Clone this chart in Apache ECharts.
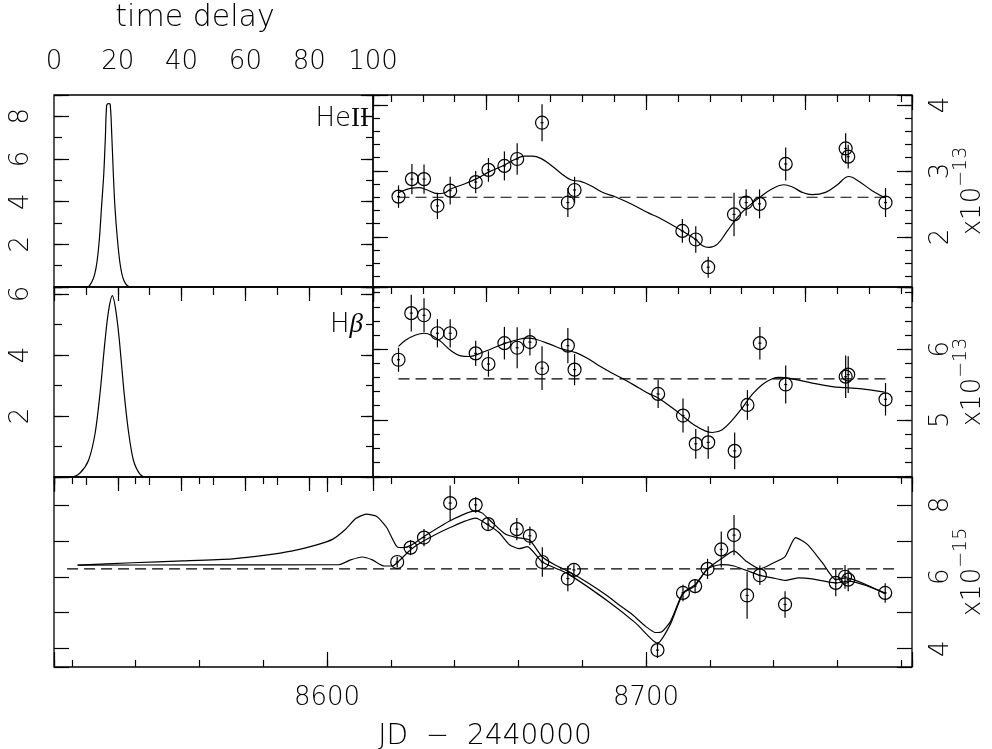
<!DOCTYPE html>
<html>
<head>
<meta charset="utf-8">
<script src="https://cdn.jsdelivr.net/npm/echarts@6/dist/echarts.min.js"></script>
<style>
  html, body { margin: 0; padding: 0; background: #fff; }
  #chart { width: 992px; height: 749px; }
</style>
</head>
<body>
<div id="chart"></div>
<script>
// --- data ---
// transfer functions (time delay in days, arbitrary units)
const heLag = [0, 10.4, 12.3, 13.4, 14.2, 14.9, 15.6, 16.1, 16.5, 17.0, 17.6, 18.1, 18.6, 19.1, 19.9, 20.7, 21.7, 23.3, 24.9, 100];
const heVal = [0, 0, 0.39, 1.1, 2.2, 3.75, 5.3, 7.0, 8.5, 8.6, 8.57, 7.16, 5.3, 3.75, 2.2, 1.1, 0.39, 0.03, 0, 0];
const hbLag = [0, 5.5, 8.15, 10.8, 12.85, 14.4, 16.0, 17.1, 18.3, 19.4, 20.5, 21.9, 23.3, 24.9, 27.0, 29.1, 100];
const hbVal = [0, 0, 0.13, 0.54, 1.41, 2.72, 4.47, 5.45, 5.95, 5.45, 4.47, 2.84, 1.53, 0.55, 0.09, 0, 0];

// HeII light curve (x1e-13)
const heDate = [8622.4, 8626.6, 8630.4, 8634.6, 8638.6, 8646.6, 8650.6, 8655.6, 8659.6, 8667.4, 8675.5, 8677.6, 8711.4, 8715.6, 8719.5, 8727.6, 8731.4, 8735.6, 8743.8, 8762.6, 8763.4, 8775.1];
const heFlux = [2.61, 2.875, 2.875, 2.47, 2.70, 2.83, 3.015, 3.075, 3.18, 3.73, 2.52, 2.71, 2.09, 1.96, 1.54, 2.34, 2.52, 2.50, 3.105, 3.34, 3.215, 2.52];
const heErr = [0.17, 0.23, 0.22, 0.20, 0.21, 0.17, 0.18, 0.22, 0.24, 0.28, 0.22, 0.20, 0.18, 0.20, 0.16, 0.33, 0.20, 0.22, 0.25, 0.23, 0.18, 0.22];
const heModelDate = [8622.4, 8626.7, 8628.8, 8631.4, 8634.6, 8636.7, 8638.8, 8642.4, 8646.6, 8650.8, 8655.0, 8659.2, 8661.8, 8664.4, 8667.0, 8670.1, 8673.3, 8676.4, 8679.5, 8682.7, 8686.3, 8690.5, 8695.7, 8700.9, 8704.1, 8711.4, 8715.6, 8717.6, 8719.7, 8722.4, 8725.5, 8728.6, 8731.8, 8736.0, 8739.6, 8743.3, 8745.9, 8749.0, 8752.1, 8756.3, 8760.0, 8763.6, 8766.8, 8770.9, 8775.1];
const heModel = [2.67, 2.74, 2.745, 2.71, 2.655, 2.665, 2.725, 2.79, 2.875, 2.985, 3.075, 3.18, 3.225, 3.225, 3.19, 3.09, 2.965, 2.865, 2.84, 2.775, 2.675, 2.605, 2.49, 2.36, 2.29, 2.09, 1.96, 1.87, 1.84, 1.89, 2.09, 2.29, 2.45, 2.61, 2.73, 2.79, 2.755, 2.675, 2.64, 2.675, 2.79, 2.915, 2.84, 2.70, 2.59];
const heMean = 2.60;

// H-beta light curve (x1e-13)
const hbDate = [8622.4, 8626.4, 8630.4, 8634.6, 8638.6, 8646.6, 8650.6, 8655.6, 8659.6, 8663.6, 8667.4, 8675.5, 8677.6, 8703.8, 8711.6, 8715.6, 8719.5, 8727.8, 8731.8, 8735.7, 8743.8, 8762.6, 8763.4, 8775.1];
const hbFlux = [5.85, 6.51, 6.48, 6.225, 6.225, 5.94, 5.79, 6.085, 6.02, 6.10, 5.73, 6.05, 5.71, 5.366, 5.06, 4.66, 4.68, 4.56, 5.21, 6.085, 5.50, 5.61, 5.64, 5.29];
const hbErr = [0.17, 0.26, 0.24, 0.20, 0.20, 0.18, 0.18, 0.23, 0.29, 0.19, 0.31, 0.25, 0.22, 0.20, 0.24, 0.21, 0.23, 0.26, 0.21, 0.23, 0.27, 0.30, 0.26, 0.23];
const hbModelDate = [8622.4, 8624.7, 8627.8, 8630.4, 8633.0, 8635.6, 8638.8, 8641.9, 8644.5, 8647.6, 8651.8, 8656.0, 8660.2, 8662.8, 8665.4, 8669.6, 8673.8, 8678.0, 8681.6, 8685.3, 8689.4, 8693.6, 8697.8, 8700.9, 8703.8, 8708.2, 8711.6, 8715.0, 8718.7, 8720.8, 8723.9, 8727.1, 8730.2, 8733.3, 8736.5, 8739.6, 8741.7, 8745.9, 8752.1, 8758.4, 8762.6, 8768.9, 8775.1];
const hbModel = [6.04, 6.13, 6.20, 6.225, 6.19, 6.11, 5.98, 5.905, 5.896, 5.934, 6.01, 6.085, 6.14, 6.155, 6.14, 6.075, 6.0, 5.95, 5.87, 5.765, 5.66, 5.56, 5.45, 5.37, 5.31, 5.17, 5.05, 4.93, 4.84, 4.82, 4.86, 5.0, 5.17, 5.36, 5.50, 5.58, 5.60, 5.58, 5.52, 5.47, 5.455, 5.43, 5.39];
const hbMean = 5.58;

// continuum light curve (x1e-15)
const coDate = [8622.0, 8626.2, 8630.4, 8638.6, 8646.6, 8650.5, 8659.5, 8663.6, 8667.5, 8675.5, 8677.4, 8703.6, 8711.6, 8715.4, 8719.3, 8723.6, 8727.6, 8731.7, 8735.7, 8743.6, 8759.5, 8762.4, 8763.4, 8775.0];
const coFlux = [6.41, 6.81, 7.09, 8.05, 8.0, 7.465, 7.325, 7.14, 6.41, 5.95, 6.19, 3.96, 5.55, 5.74, 6.22, 6.76, 7.16, 5.48, 6.04, 5.23, 5.83, 6.0, 5.92, 5.55];
const coErr = [0.15, 0.21, 0.24, 0.49, 0.22, 0.19, 0.31, 0.26, 0.41, 0.35, 0.16, 0.22, 0.23, 0.2, 0.28, 0.5, 0.56, 0.65, 0.27, 0.37, 0.37, 0.33, 0.32, 0.27];
const coADate = [8521.8, 8539.0, 8554.7, 8570.4, 8580.8, 8589.2, 8596.5, 8601.7, 8605.9, 8609.0, 8612.3, 8615.5, 8618.7, 8622.0, 8624.1, 8626.4, 8630.4, 8638.6, 8646.6, 8648.7, 8651.8, 8656.0, 8659.5, 8663.5, 8667.5, 8671.7, 8675.9, 8682.0, 8687.4, 8691.5, 8695.7, 8699.9, 8703.0, 8705.1, 8707.7, 8711.6, 8715.4, 8719.3, 8723.6, 8727.6, 8731.3, 8735.7, 8739.6, 8743.6, 8746.9, 8750.6, 8755.3, 8759.5, 8762.6, 8774.9];
const coAFlux = [6.325, 6.39, 6.44, 6.50, 6.60, 6.72, 6.88, 7.04, 7.33, 7.62, 7.74, 7.68, 7.37, 6.83, 6.81, 6.88, 7.12, 7.56, 7.84, 7.77, 7.51, 7.18, 7.09, 7.02, 6.55, 6.32, 6.14, 5.82, 5.50, 5.22, 4.95, 4.62, 4.45, 4.48, 4.76, 5.55, 5.78, 6.22, 6.50, 6.72, 6.44, 6.22, 6.37, 6.56, 7.09, 6.90, 6.39, 5.92, 5.97, 5.53];
const coBDate = [8521.8, 8560.0, 8603.8, 8607.4, 8611.1, 8614.2, 8617.9, 8620.5, 8622.0, 8626.2, 8630.4, 8638.6, 8646.6, 8650.5, 8653.9, 8657.1, 8660.2, 8662.8, 8667.5, 8675.5, 8688.4, 8696.8, 8703.6, 8707.7, 8711.6, 8715.4, 8719.3, 8723.6, 8727.6, 8735.7, 8739.6, 8743.6, 8747.9, 8752.1, 8759.5, 8763.6, 8775.0];
const coBFlux = [6.325, 6.33, 6.34, 6.47, 6.55, 6.47, 6.30, 6.30, 6.39, 6.75, 7.0, 7.37, 7.63, 7.44, 7.23, 6.90, 6.78, 6.84, 6.41, 6.08, 5.30, 4.71, 4.15, 4.69, 5.53, 5.75, 6.22, 6.34, 6.30, 6.04, 5.97, 5.90, 5.97, 5.94, 5.83, 5.88, 5.55];
const coMean = 6.22;
const coMeanFrom = 8518.5, coMeanTo = 8779.5;

// axis extents
const JD0 = 8514.4, JD1 = 8783.4, JDR = JD0 + 100;
const heRange = [1.24, 4.15], hbRange = [4.19, 6.88], coRange = [3.49, 8.775];

// --- chart ---
const FONT = "'DejaVu Sans', sans-serif";
const chart = echarts.init(document.getElementById('chart'));

const xAxes = [], yAxes = [];
function push(list, axis) { list.push(axis); return list.length - 1; }
function tickAxis(grid, pos, min, max, step, len, label) {
  const a = {
    type: 'value', gridIndex: grid, position: pos, min: min, max: max,
    splitNumber: 1, minInterval: step, maxInterval: step,
    axisLine: { show: false }, splitLine: { show: false },
    axisTick: { show: true, inside: true, length: len, lineStyle: { color: '#000', width: 1.2 } },
    axisLabel: { show: false }
  };
  if (label) {
    a.axisLabel = Object.assign({ show: true, color: '#000', fontFamily: FONT, fontSize: 26, fontWeight: 200 }, label);
  }
  return a;
}
const isMult = (v, s) => Math.abs(v / s - Math.round(v / s)) < 1e-6;

// grid 0: HeII transfer function
const x0 = push(xAxes, tickAxis(0, 'top', 0, 100, 20, 14, { margin: 20, formatter: v => String(v) }));
push(xAxes, tickAxis(0, 'top', 0, 100, 10, 8));
const y0 = push(yAxes, tickAxis(0, 'left', 0, 9, 2, 15, { rotate: 90, margin: 20, formatter: v => (v > 0 && isMult(v, 2)) ? String(v) : '' }));
push(yAxes, tickAxis(0, 'left', 0, 9, 1, 8));
push(yAxes, tickAxis(0, 'right', 0, 9, 2, 12));
push(yAxes, tickAxis(0, 'right', 0, 9, 1, 7));

// grid 1: HeII light curve
const x1 = push(xAxes, tickAxis(1, 'top', JDR, JD1, 50, 15));
push(xAxes, tickAxis(1, 'top', JDR, JD1, 10, 7));
const y1 = push(yAxes, tickAxis(1, 'right', heRange[0], heRange[1], 1, 15, { rotate: 90, margin: 16, formatter: v => isMult(v, 1) ? String(v) : '' }));
yAxes[y1].name = '{a|x10}{b|\u221213}';
push(yAxes, tickAxis(1, 'right', heRange[0], heRange[1], 0.2, 7));
push(yAxes, tickAxis(1, 'left', heRange[0], heRange[1], 1, 15));
push(yAxes, tickAxis(1, 'left', heRange[0], heRange[1], 0.2, 7));

// grid 2: H-beta transfer function
const x2 = push(xAxes, tickAxis(2, 'top', 0, 100, 20, 14));
push(xAxes, tickAxis(2, 'top', 0, 100, 10, 8));
const y2 = push(yAxes, tickAxis(2, 'left', 0, 6.23, 2, 15, { rotate: 90, margin: 20, formatter: v => (v > 0 && isMult(v, 2)) ? String(v) : '' }));
push(yAxes, tickAxis(2, 'left', 0, 6.23, 1, 8));
push(yAxes, tickAxis(2, 'right', 0, 6.23, 2, 12));
push(yAxes, tickAxis(2, 'right', 0, 6.23, 1, 7));

// grid 3: H-beta light curve
const x3 = push(xAxes, tickAxis(3, 'top', JDR, JD1, 50, 15));
push(xAxes, tickAxis(3, 'top', JDR, JD1, 10, 7));
const y3 = push(yAxes, tickAxis(3, 'right', hbRange[0], hbRange[1], 1, 15, { rotate: 90, margin: 16, formatter: v => isMult(v, 1) ? String(v) : '' }));
yAxes[y3].name = '{a|x10}{b|\u221213}';
push(yAxes, tickAxis(3, 'right', hbRange[0], hbRange[1], 0.2, 7));
push(yAxes, tickAxis(3, 'left', hbRange[0], hbRange[1], 1, 15));
push(yAxes, tickAxis(3, 'left', hbRange[0], hbRange[1], 0.2, 7));

// grid 4: continuum
const x4 = push(xAxes, tickAxis(4, 'bottom', JD0, JD1, 100, 15, { margin: 18, formatter: v => isMult(v, 100) ? String(Math.round(v)) : '' }));
push(xAxes, tickAxis(4, 'bottom', JD0, JD1, 20, 7));
push(xAxes, tickAxis(4, 'top', JD0, JD1, 100, 15));
push(xAxes, tickAxis(4, 'top', JD0, JD1, 20, 7));
const y4 = push(yAxes, tickAxis(4, 'right', coRange[0], coRange[1], 1, 15, { rotate: 90, margin: 16, formatter: v => isMult(v, 2) ? String(v) : '' }));
yAxes[y4].name = '{a|x10}{b|\u221215}';
push(yAxes, tickAxis(4, 'left', coRange[0], coRange[1], 1, 15));

[y1, y3, y4].forEach(i => {
  Object.assign(yAxes[i], {
    nameLocation: 'middle', nameRotate: 90, nameGap: 40, nameMoveOverlap: false,
    nameTextStyle: {
      color: '#000', fontFamily: FONT, fontWeight: 200,
      rich: {
        a: { color: '#000', fontFamily: FONT, fontSize: 26, fontWeight: 200, lineHeight: 34, verticalAlign: 'bottom' },
        b: { color: '#000', fontFamily: FONT, fontSize: 19, fontWeight: 200, lineHeight: 34, verticalAlign: 'top' }
      }
    }
  });
});

const grids = [
  { left: 54, top: 95, width: 319, height: 192 },
  { left: 373, top: 95, width: 539, height: 192 },
  { left: 54, top: 287, width: 319, height: 190 },
  { left: 373, top: 287, width: 539, height: 190 },
  { left: 54, top: 477, width: 858, height: 190 }
].map(g => Object.assign({ show: true, borderColor: '#000', borderWidth: 1.3, backgroundColor: 'transparent',
  containLabel: false, outerBoundsMode: 'none' }, g));

const pair = (xs, ys) => xs.map((x, i) => [x, ys[i]]);
const lineStyle = { color: '#000', width: 1.2 };

function curve(xi, yi, xs, ys, smooth) {
  return { type: 'line', xAxisIndex: xi, yAxisIndex: yi, data: pair(xs, ys), showSymbol: false, smooth: smooth,
    lineStyle: lineStyle, silent: true, animation: false, z: 3 };
}
function dashed(xi, yi, from, to, y) {
  return { type: 'line', xAxisIndex: xi, yAxisIndex: yi, data: [[from, y], [to, y]], showSymbol: false,
    lineStyle: { color: '#000', width: 1.2, type: [11, 6] }, silent: true, animation: false, z: 2 };
}
function points(xi, yi, xs, ys, es) {
  return {
    type: 'custom', xAxisIndex: xi, yAxisIndex: yi, animation: false, silent: true, z: 4,
    data: xs.map((x, i) => [x, ys[i], es[i]]),
    encode: { x: 0, y: 1 },
    renderItem: function (params, api) {
      const x = api.value(0), y = api.value(1), e = api.value(2);
      const c = api.coord([x, y]);
      const lo = api.coord([x, y - e]);
      const hi = api.coord([x, y + e]);
      const s = { stroke: '#000', lineWidth: 1.2, fill: null };
      return { type: 'group', children: [
        { type: 'line', shape: { x1: c[0], y1: lo[1], x2: c[0], y2: hi[1] }, style: s },
        { type: 'circle', shape: { cx: c[0], cy: c[1], r: 6.5 }, style: s },
        { type: 'line', shape: { x1: c[0] - 1.5, y1: c[1], x2: c[0] + 1.5, y2: c[1] }, style: s }
      ] };
    }
  };
}

const series = [
  curve(x0, y0, heLag, heVal, 0.3),
  curve(x2, y2, hbLag, hbVal, 0.3),
  dashed(x1, y1, heDate[0], heDate[heDate.length - 1], heMean),
  curve(x1, y1, heModelDate, heModel, 0.4),
  points(x1, y1, heDate, heFlux, heErr),
  dashed(x3, y3, hbDate[0], hbDate[hbDate.length - 1], hbMean),
  curve(x3, y3, hbModelDate, hbModel, 0.4),
  points(x3, y3, hbDate, hbFlux, hbErr),
  dashed(x4, y4, coMeanFrom, coMeanTo, coMean),
  curve(x4, y4, coADate, coAFlux, 0.2),
  curve(x4, y4, coBDate, coBFlux, 0.2),
  points(x4, y4, coDate, coFlux, coErr)
];

const txt = { fill: '#000', fontFamily: FONT, fontWeight: 200 };
chart.setOption({
  animation: false,
  backgroundColor: '#fff',
  grid: grids,
  xAxis: xAxes,
  yAxis: yAxes,
  series: series,
  graphic: [
    { type: 'text', x: 195, y: 18, style: Object.assign({ text: 'time delay', fontSize: 30, align: 'center', verticalAlign: 'middle' }, txt) },
    { type: 'text', x: 485, y: 737, style: Object.assign({ text: 'JD  \u2212  2440000', fontSize: 28, align: 'center', verticalAlign: 'middle' }, txt) },
    { type: 'text', x: 369, y: 119, style: { text: '{a|He}{b|II}', align: 'right', verticalAlign: 'middle',
        rich: { a: { fill: '#000', fontFamily: FONT, fontSize: 26, fontWeight: 200 },
                b: { fill: '#000', fontFamily: "'Liberation Serif', serif", fontSize: 27 } } } },
    { type: 'text', x: 363, y: 325, style: { text: '{a|H}{b|\u03B2}', align: 'right', verticalAlign: 'middle',
        rich: { a: { fill: '#000', fontFamily: FONT, fontSize: 26, fontWeight: 200 },
                b: { fill: '#000', fontFamily: "'Liberation Serif', serif", fontSize: 27, fontStyle: 'italic' } } } }
  ]
});
</script>
</body>
</html>
